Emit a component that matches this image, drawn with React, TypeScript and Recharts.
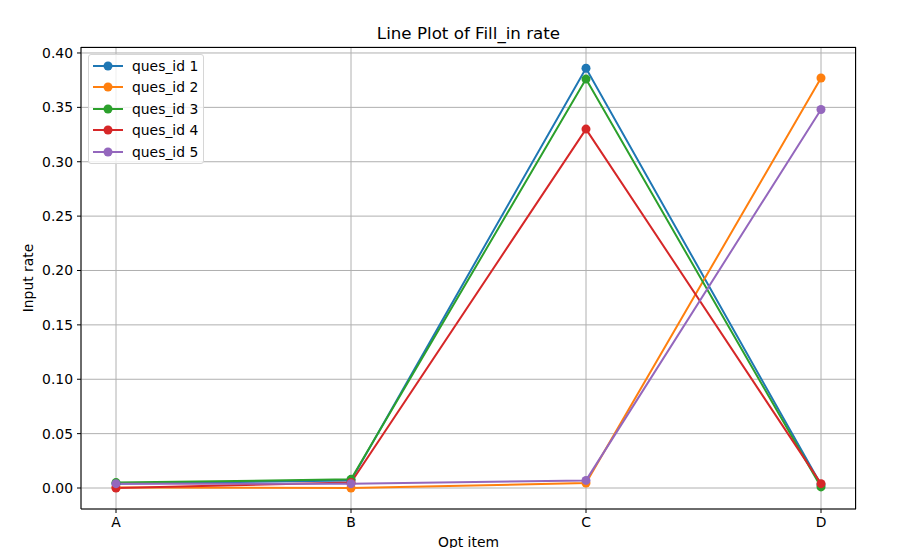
import React from 'react';
import { LineChart, Line, XAxis, YAxis, CartesianGrid } from 'recharts';

const categories = ['A', 'B', 'C', 'D'];
const seriesNames = ['ques_id 1', 'ques_id 2', 'ques_id 3', 'ques_id 4', 'ques_id 5'];
const q1 = [0.004, 0.007, 0.386, 0.003];
const q2 = [0.0005, 0.0, 0.0045, 0.377];
const q3 = [0.005, 0.008, 0.376, 0.001];
const q4 = [0.0, 0.005, 0.330, 0.004];
const q5 = [0.004, 0.004, 0.007, 0.348];
const yTicks = [0, 0.05, 0.1, 0.15, 0.2, 0.25, 0.3, 0.35, 0.4];

const COLORS = ['#1f77b4', '#ff7f0e', '#2ca02c', '#d62728', '#9467bd'];
const FONT = '"DejaVu Sans", sans-serif';
const FS = 13.9;

const allSeries = [q1, q2, q3, q4, q5];
const data = categories.map((c, i) => {
    const row: Record<string, string | number> = { name: c };
    seriesNames.forEach((s, k) => { row[s] = allSeries[k][i]; });
    return row;
});

// legend drawn outside the chart so it doesn't eat plot space
function LegendBox() {
    return (
        <div style={{
            position: 'absolute', left: 88, top: 54, zIndex: 2, boxSizing: 'border-box',
            background: 'rgba(255,255,255,0.8)', border: '1px solid #d6d6d6', borderRadius: 3,
            width: 116, height: 110, paddingTop: 0, fontFamily: FONT, fontSize: FS, color: '#000',
        }}>
            {seriesNames.map((s, i) => (
                <div key={s} style={{ display: 'flex', alignItems: 'center', height: 21.5 }}>
                    <svg width={40} height={12} style={{ marginLeft: 3 }}>
                        <line x1={1} y1={6} x2={31} y2={6} stroke={COLORS[i]} strokeWidth={2} />
                        <circle cx={16} cy={6} r={4.5} fill={COLORS[i]} />
                    </svg>
                    <span>{s}</span>
                </div>
            ))}
        </div>
    );
}

export default function App() {
    return (
        <div style={{ position: 'absolute', left: 0, top: 0, width: 907, height: 548, background: '#fff', overflow: 'hidden' }}>
            <div style={{ position: 'absolute', left: 81, width: 775, top: 23, textAlign: 'center', fontFamily: FONT, fontSize: 16.7 }}>
                Line Plot of Fill_in rate
            </div>
            <div style={{ position: 'absolute', left: 81, width: 775, top: 534, textAlign: 'center', fontFamily: FONT, fontSize: FS }}>
                Opt item
            </div>
            <div style={{
                position: 'absolute', left: 28, top: 278, fontFamily: FONT, fontSize: FS,
                transform: 'translate(-50%, -50%) rotate(-90deg)', whiteSpace: 'nowrap',
            }}>
                Input rate
            </div>
            {/* axes frame (top/right spines) */}
            <div style={{
                position: 'absolute', left: 81, top: 47, width: 775, height: 462, boxSizing: 'border-box',
                borderTop: '1px solid #000', borderRight: '1px solid #000', pointerEvents: 'none', zIndex: 1,
            }} />
            <LegendBox />
            <LineChart width={907} height={548} data={data} margin={{ top: 47, right: 51, left: 0, bottom: 0 }}>
                <CartesianGrid stroke="#b0b0b0" strokeWidth={1} />
                <XAxis
                    dataKey="name"
                    padding={{ left: 35, right: 35 }}
                    height={39}
                    tickSize={4}
                    tickMargin={4}
                    tick={{ fill: '#000', fontSize: FS, fontFamily: FONT }}
                    axisLine={{ stroke: '#000' }}
                    tickLine={{ stroke: '#000' }}
                />
                <YAxis
                    type="number"
                    domain={[-0.0193, 0.4055]}
                    allowDataOverflow
                    ticks={yTicks}
                    tickFormatter={(v: number) => v.toFixed(2)}
                    width={81}
                    tickSize={4}
                    tickMargin={4}
                    tick={{ fill: '#000', fontSize: FS, fontFamily: FONT }}
                    axisLine={{ stroke: '#000' }}
                    tickLine={{ stroke: '#000' }}
                />
                {seriesNames.map((s, i) => (
                    <Line
                        key={s}
                        dataKey={s}
                        type="linear"
                        stroke={COLORS[i]}
                        strokeWidth={2}
                        dot={{ r: 4.5, fill: COLORS[i], stroke: COLORS[i], strokeWidth: 0 }}
                        activeDot={false}
                        isAnimationActive={false}
                    />
                ))}
            </LineChart>
        </div>
    );
}
